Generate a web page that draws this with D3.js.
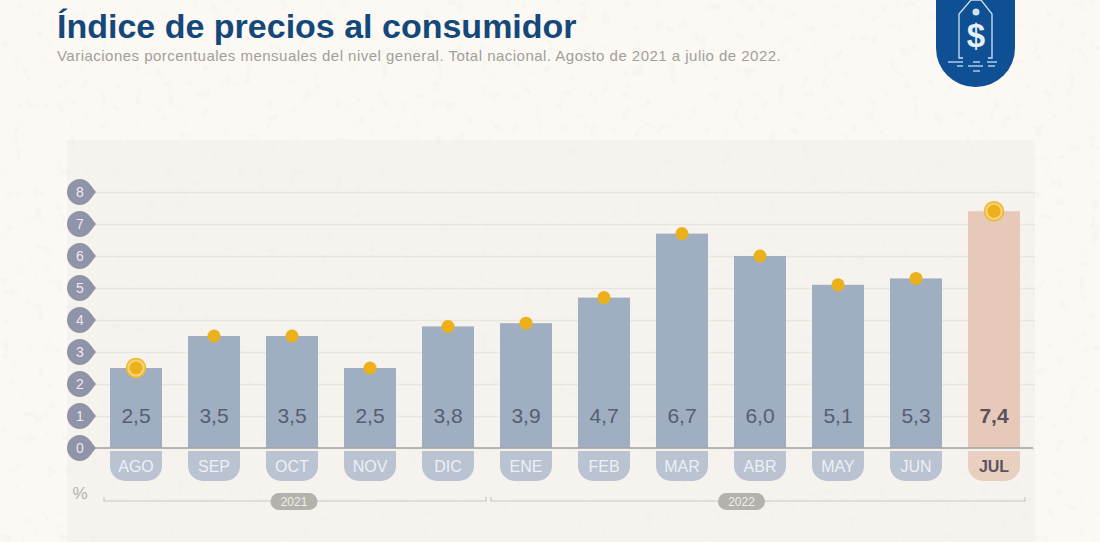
<!DOCTYPE html>
<html>
<head>
<meta charset="utf-8">
<script src="https://cdn.jsdelivr.net/npm/d3@7"></script>
<style>
  html, body { margin: 0; padding: 0; background: #fcf8f3; overflow: hidden; }
  svg { display: block; font-family: "Liberation Sans", Arial, sans-serif; }
</style>
</head>
<body>
<div id="chart"></div>
<script>
var months = ['AGO','SEP','OCT','NOV','DIC','ENE','FEB','MAR','ABR','MAY','JUN','JUL'];
var values = [2.5,3.5,3.5,2.5,3.8,3.9,4.7,6.7,6.0,5.1,5.3,7.4];
var yTicks = [0,1,2,3,4,5,6,7,8];
var years = ['2021','2022'];
var ringed = ['AGO','JUL'];
var lastMonth = 'JUL';

var title = 'Índice de precios al consumidor';
var subtitle = 'Variaciones porcentuales mensuales del nivel general. Total nacional. Agosto de 2021 a julio de 2022.';

var width = 1100, height = 542;
var blue = '#a0aec1', blueTab = '#b9c3d2', peach = '#e6c9b9', peachTab = '#e8cfc0';

var svg = d3.select('#chart').append('svg')
  .attr('width', width)
  .attr('height', height);

// faint paper speckle
var speckle = svg.append('defs').append('filter').attr('id', 'speckle')
  .attr('x', 0).attr('y', 0).attr('width', '100%').attr('height', '100%');
speckle.append('feTurbulence').attr('type', 'fractalNoise').attr('baseFrequency', 0.09).attr('numOctaves', 2).attr('seed', 4);
speckle.append('feColorMatrix').attr('type', 'matrix')
  .attr('values', '0 0 0 0 0.89  0 0 0 0 0.87  0 0 0 0 0.83  0 0 0 9 -5.6');

// paper background and the slightly darker panel
svg.append('rect').attr('width', width).attr('height', height).attr('fill', '#fcf8f3');
svg.append('rect').attr('x', 67).attr('y', 140).attr('width', 968).attr('height', 402).attr('fill', '#f6f3ee');
svg.append('rect').attr('width', width).attr('height', height).attr('filter', 'url(#speckle)').attr('opacity', 0.35);

// title
svg.append('text').attr('x', 57).attr('y', 38)
  .attr('font-size', 34).attr('font-weight', 700).attr('fill', '#14487a')
  .text(title);
svg.append('text').attr('x', 57).attr('y', 60.5)
  .attr('font-size', 15).attr('letter-spacing', 0.48).attr('fill', '#a09f9b')
  .text(subtitle);

// scales
var x = d3.scaleBand().domain(months).range([97, 1033]).paddingInner(1 / 3).paddingOuter(1 / 6);
var y = d3.scaleLinear().domain([0, 8]).range([448, 192]);

// grid lines
var gridAxis = d3.axisRight(y).tickValues(yTicks).tickSize(1035 - 92).tickFormat('');
var grid = svg.append('g').attr('transform', 'translate(92,0)').call(gridAxis);
grid.select('.domain').remove();
grid.selectAll('line').attr('stroke', '#e8e5df').attr('stroke-width', 1.5);

// bars
svg.append('g').selectAll('rect').data(months).join('rect')
  .attr('x', function(d){ return x(d); })
  .attr('y', function(d, i){ return y(values[i]); })
  .attr('width', x.bandwidth())
  .attr('height', function(d, i){ return y(0) - y(values[i]); })
  .attr('fill', function(d){ return d == lastMonth ? peach : blue; });

// zero line
svg.append('line').attr('x1', 92).attr('x2', 1033).attr('y1', y(0)).attr('y2', y(0))
  .attr('stroke', '#a5a5a6').attr('stroke-width', 1.5);

// teardrop tick labels
var ticks = svg.append('g').selectAll('g').data(yTicks).join('g')
  .attr('transform', function(d){ return 'translate(80,' + y(d) + ')'; });
ticks.append('path')
  .attr('d', 'M0,-13 C8,-13 11,-6 16,0 C11,6 8,13 0,13 A13,13 0 0 1 0,-13 Z')
  .attr('fill', '#8f94a8');
ticks.append('text')
  .attr('y', 5).attr('text-anchor', 'middle')
  .attr('font-size', 14).attr('fill', '#e9ebf2')
  .text(function(d){ return d; });

// month tabs under the axis
var tabR = 15, tabTop = 451, tabBottom = 481;
var tabs = svg.append('g').selectAll('g').data(months).join('g');
tabs.append('path')
  .attr('d', function(d){
    var x0 = x(d), x1 = x(d) + x.bandwidth();
    return 'M' + x0 + ',' + tabTop + 'H' + x1 + 'V' + (tabBottom - tabR) +
      'A' + tabR + ',' + tabR + ' 0 0 1 ' + (x1 - tabR) + ',' + tabBottom +
      'H' + (x0 + tabR) + 'A' + tabR + ',' + tabR + ' 0 0 1 ' + x0 + ',' + (tabBottom - tabR) + 'Z';
  })
  .attr('fill', function(d){ return d == lastMonth ? peachTab : blueTab; });
tabs.append('text')
  .attr('x', function(d){ return x(d) + x.bandwidth() / 2; })
  .attr('y', 471.5).attr('text-anchor', 'middle')
  .attr('font-size', 16)
  .attr('font-weight', function(d){ return d == lastMonth ? 700 : 400; })
  .attr('fill', function(d){ return d == lastMonth ? '#5b5560' : '#eef0f4'; })
  .text(function(d){ return d; });

// value labels
svg.append('g').selectAll('text').data(months).join('text')
  .attr('x', function(d){ return x(d) + x.bandwidth() / 2; })
  .attr('y', 423).attr('text-anchor', 'middle')
  .attr('font-size', 21)
  .attr('font-weight', function(d){ return d == lastMonth ? 700 : 400; })
  .attr('fill', function(d){ return d == lastMonth ? '#57525e' : '#545f74'; })
  .text(function(d, i){ return d3.format('.1f')(values[i]).replace('.', ','); });

// yellow dots
var dots = svg.append('g').selectAll('g').data(months).join('g')
  .attr('transform', function(d, i){ return 'translate(' + (x(d) + x.bandwidth() / 2) + ',' + y(values[i]) + ')'; });
dots.filter(function(d){ return ringed.indexOf(d) >= 0; }).append('circle')
  .attr('r', 9.5).attr('fill', '#f6d27a').attr('stroke', '#eeb52a').attr('stroke-width', 1.5);
dots.append('circle').attr('r', 6.5).attr('fill', '#ecb01a');

// % unit
svg.append('text').attr('x', 80).attr('y', 499).attr('text-anchor', 'middle')
  .attr('font-size', 17).attr('fill', '#b4b2ae').text('%');

// year brackets
var bracketLeft = [104, 491], bracketRight = [486, 1025], yearLabelX = [294, 741.5];
var brackets = svg.append('g').selectAll('g').data(years).join('g');
brackets.append('path')
  .attr('d', function(d, i){
    return 'M' + bracketLeft[i] + ',497V501H' + bracketRight[i] + 'V497';
  })
  .attr('fill', 'none').attr('stroke', '#c9c6c0').attr('stroke-width', 1.2);
brackets.append('rect')
  .attr('x', function(d, i){ return yearLabelX[i] - 23.5; })
  .attr('y', 493).attr('width', 47).attr('height', 17).attr('rx', 8.5)
  .attr('fill', '#b4b2ad');
brackets.append('text')
  .attr('x', function(d, i){ return yearLabelX[i]; })
  .attr('y', 506).attr('text-anchor', 'middle')
  .attr('font-size', 12).attr('fill', '#efede8')
  .text(function(d){ return d; });

// logo badge
var logo = svg.append('g');
logo.append('path')
  .attr('d', 'M936,-2H1015V48A39,39 0 0 1 976,87H975A39,39 0 0 1 936,48Z')
  .attr('fill', '#0f4f93');
logo.append('path')
  .attr('d', 'M963,58H959V14L971,0H981L992,14V58H988')
  .attr('fill', 'none').attr('stroke', '#cfe0f2').attr('stroke-width', 1.3);
logo.append('circle').attr('cx', 976).attr('cy', 12).attr('r', 3.5).attr('fill', '#cfe0f2');
logo.append('text').attr('x', 976).attr('y', 47).attr('text-anchor', 'middle')
  .attr('font-size', 33).attr('font-weight', 700).attr('fill', '#e6f0fa').text('$');
var logoLines = [[948,62,963],[973,62,980],[987,62,997],[957,66,963],[968,66,983],[988,66,995],[973,71,980]];
logo.selectAll('line').data(logoLines).join('line')
  .attr('x1', function(d){ return d[0]; }).attr('x2', function(d){ return d[2]; })
  .attr('y1', function(d){ return d[1]; }).attr('y2', function(d){ return d[1]; })
  .attr('stroke', '#a9cbed').attr('stroke-width', 1.5);
</script>
</body>
</html>
